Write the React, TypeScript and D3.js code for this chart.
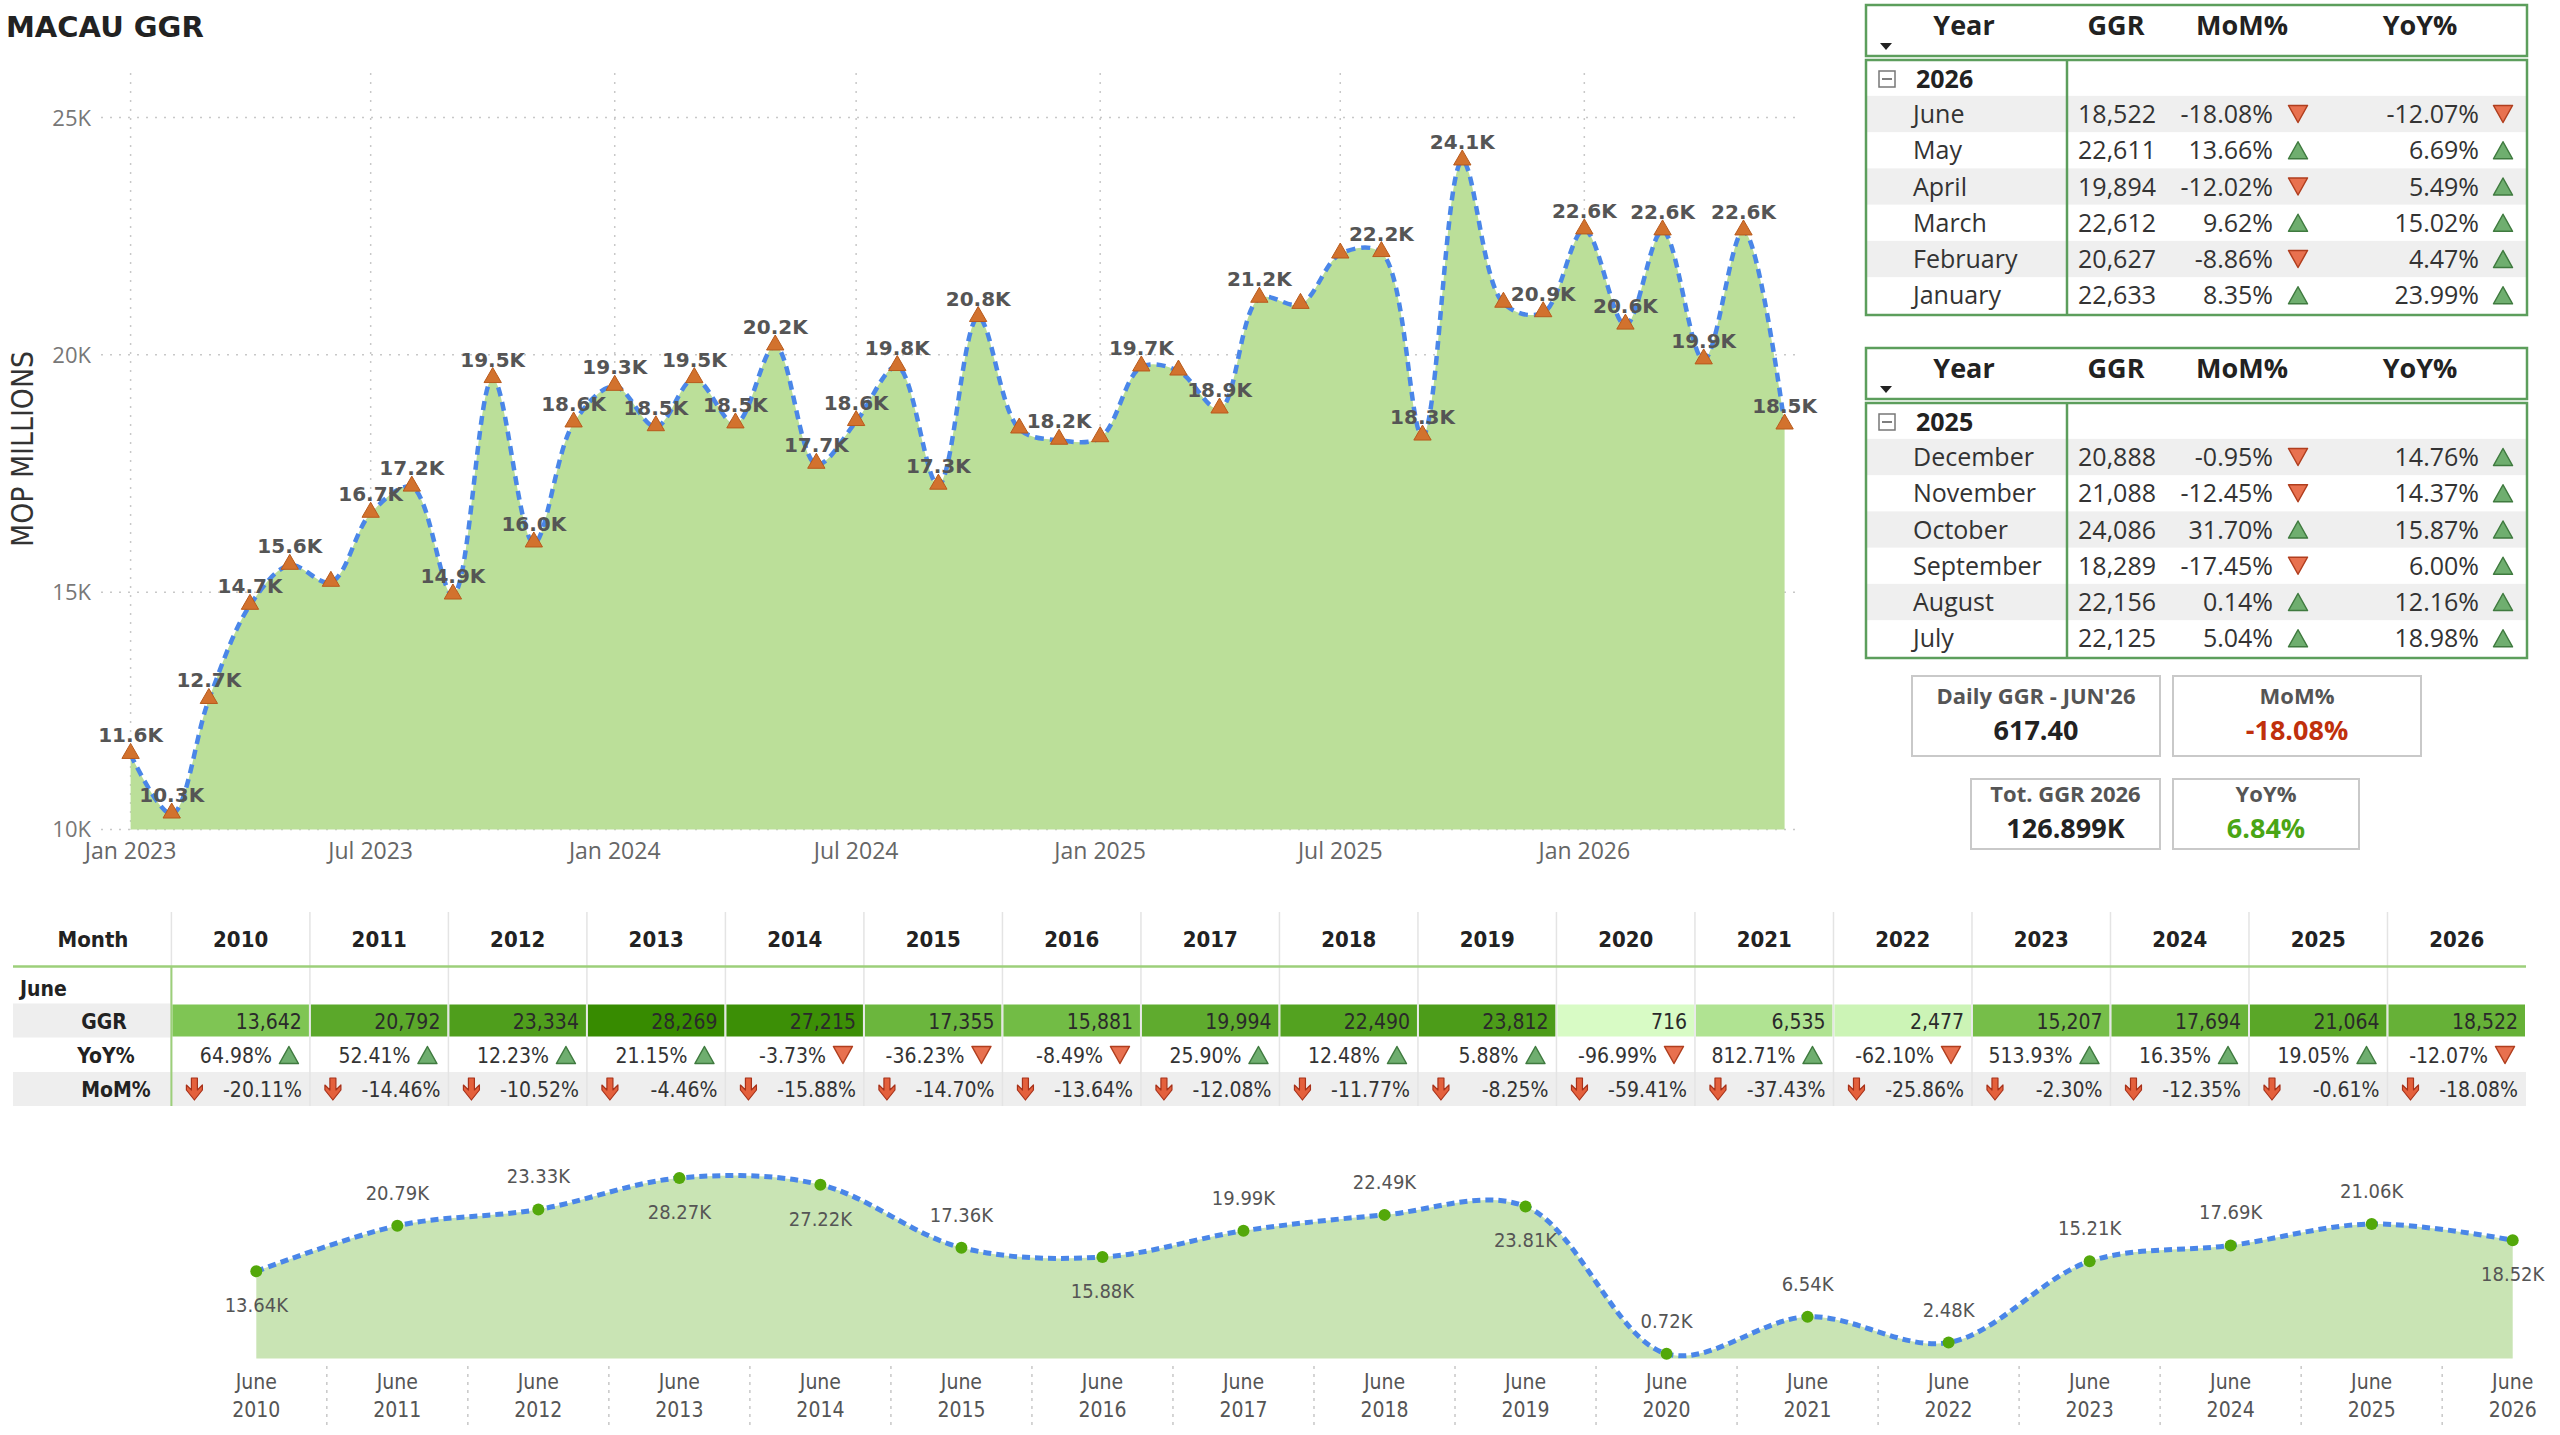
import React, { useEffect } from 'react';
import * as d3 from 'd3';

// ---------- monthly GGR, Jan 2023 – Jun 2026 (MOP millions) ----------
const monthKeys = [
  '2023-01', '2023-02', '2023-03', '2023-04', '2023-05', '2023-06', '2023-07', '2023-08', '2023-09', '2023-10', '2023-11', '2023-12',
  '2024-01', '2024-02', '2024-03', '2024-04', '2024-05', '2024-06', '2024-07', '2024-08', '2024-09', '2024-10', '2024-11', '2024-12',
  '2025-01', '2025-02', '2025-03', '2025-04', '2025-05', '2025-06', '2025-07', '2025-08', '2025-09', '2025-10', '2025-11', '2025-12',
  '2026-01', '2026-02', '2026-03', '2026-04', '2026-05', '2026-06',
];
const monthlyGGR = [
  11580, 10324, 12738, 14722, 15565, 15207, 16662, 17213, 14939, 19501, 16036, 18565,
  19337, 18486, 19500, 18545, 20187, 17694, 18595, 19754, 17254, 20787, 18438, 18201,
  18254, 19745, 19659, 18859, 21193, 21064, 22125, 22156, 18289, 24086, 21088, 20888,
  22633, 20627, 22612, 19894, 22611, 18522,
];
// months whose data label is suppressed (crowded neighbours)
const unlabeledMonths = ['2023-06', '2024-11', '2025-01', '2025-03', '2025-06', '2025-07', '2025-11'];
const yTicks = [10000, 15000, 20000, 25000];

// ---------- matrix 2026 ----------
const months2026 = ['June', 'May', 'April', 'March', 'February', 'January'];
const ggr2026 = [18522, 22611, 19894, 22612, 20627, 22633];
const mom2026 = [-18.08, 13.66, -12.02, 9.62, -8.86, 8.35];
const yoy2026 = [-12.07, 6.69, 5.49, 15.02, 4.47, 23.99];

// ---------- matrix 2025 (H2) ----------
const months2025 = ['December', 'November', 'October', 'September', 'August', 'July'];
const ggr2025 = [20888, 21088, 24086, 18289, 22156, 22125];
const mom2025 = [-0.95, -12.45, 31.7, -17.45, 0.14, 5.04];
const yoy2025 = [14.76, 14.37, 15.87, 6.0, 12.16, 18.98];

// ---------- KPI cards ----------
const ytdYoY2026 = 6.84;
const daysInJune = 30;

// ---------- June of every year ----------
const juneYears = ['2010', '2011', '2012', '2013', '2014', '2015', '2016', '2017', '2018', '2019', '2020', '2021', '2022', '2023', '2024', '2025', '2026'];
const juneGGR = [13642, 20792, 23334, 28269, 27215, 17355, 15881, 19994, 22490, 23812, 716, 6535, 2477, 15207, 17694, 21064, 18522];
const juneYoY = [64.98, 52.41, 12.23, 21.15, -3.73, -36.23, -8.49, 25.9, 12.48, 5.88, -96.99, 812.71, -62.1, 513.93, 16.35, 19.05, -12.07];
const juneMoM = [-20.11, -14.46, -10.52, -4.46, -15.88, -14.7, -13.64, -12.08, -11.77, -8.25, -59.41, -37.43, -25.86, -2.3, -12.35, -0.61, -18.08];
const juneLabelSide = ['below', 'above', 'above', 'below', 'below', 'above', 'below', 'above', 'above', 'below', 'above', 'above', 'above', 'above', 'above', 'above', 'below'];

const FONT_BOLD = "'DejaVu Sans', Verdana, sans-serif";
const FONT_UI = "'Open Sans', 'Noto Sans', sans-serif";
const FONT_NARROW = "'Liberation Sans Narrow', 'DejaVu Sans Condensed', 'Open Sans', sans-serif";

const GREEN_BORDER = '#5c9e5c';
const UP_FILL = '#6fae6f';
const UP_STROKE = '#3f7a3f';
const DOWN_FILL = '#e8714f';
const DOWN_STROKE = '#b03e1e';

const parseMonth = d3.timeParse('%Y-%m');
const fmtInt = d3.format(',');
const fmtPct = (v: number) => `${v.toFixed(2)}%`;

function Tri({ cx, cy, up, w = 19, h = 17 }: { cx: number; cy: number; up: boolean; w?: number; h?: number }) {
  const d = up
    ? `M${cx - w / 2},${cy + h / 2}L${cx},${cy - h / 2}L${cx + w / 2},${cy + h / 2}Z`
    : `M${cx - w / 2},${cy - h / 2}L${cx},${cy + h / 2}L${cx + w / 2},${cy - h / 2}Z`;
  return <path d={d} fill={up ? UP_FILL : DOWN_FILL} stroke={up ? UP_STROKE : DOWN_STROKE} strokeWidth={1.5} strokeLinejoin="round" />;
}

function DownArrow({ cx, cy }: { cx: number; cy: number }) {
  const d = `M${cx - 3},${cy - 11}L${cx + 3},${cy - 11}L${cx + 3},${cy + 1}L${cx + 8},${cy - 4}L${cx + 8},${cy + 1}L${cx},${cy + 11}L${cx - 8},${cy + 1}L${cx - 8},${cy - 4}L${cx - 3},${cy + 1}Z`;
  return <path d={d} fill="#e4603c" stroke="#a8321a" strokeWidth={1.2} strokeLinejoin="round" />;
}

function MainChart() {
  const dates = monthKeys.map((m) => parseMonth(m) as Date);
  const x = d3.scaleTime().domain([dates[0], dates[dates.length - 1]]).range([130.6, 1784.6]);
  const y = d3.scaleLinear().domain([10000, 25000]).range([829.4, 117.6]);
  const top = 73;
  const curve = d3.curveCatmullRom.alpha(0.5);
  const pts = dates.map((d, i) => ({ d, v: monthlyGGR[i], key: monthKeys[i] }));
  const area = d3.area<typeof pts[0]>().x((p) => x(p.d)).y0(y(10000)).y1((p) => y(p.v)).curve(curve);
  const line = d3.line<typeof pts[0]>().x((p) => x(p.d)).y((p) => y(p.v)).curve(curve);
  const xTicks = d3.timeMonth.every(6)!.range(dates[0], d3.timeMonth.offset(dates[dates.length - 1], 1));
  const tri = d3.symbol(d3.symbolTriangle, 130);
  return (
    <g>
      <text x={6} y={37} fontFamily={FONT_BOLD} fontWeight={700} fontSize={29} fill="#222">MACAU GGR</text>
      {yTicks.map((t) => (
        <g key={t}>
          <line x1={101} x2={1801} y1={y(t)} y2={y(t)} stroke="#c8c8c8" strokeWidth={1.5} strokeDasharray="2 7" />
          <text x={91} y={y(t) + 8} textAnchor="end" fontFamily={FONT_UI} fontSize={22} fill="#777">{`${t / 1000}K`}</text>
        </g>
      ))}
      {xTicks.map((t) => (
        <g key={+t}>
          <line x1={x(t)} x2={x(t)} y1={top} y2={829.4} stroke="#c8c8c8" strokeWidth={1.5} strokeDasharray="2 7" />
          <text x={x(t)} y={859} textAnchor="middle" fontFamily={FONT_UI} fontSize={23} fill="#666">{d3.timeFormat('%b %Y')(t)}</text>
        </g>
      ))}
      <text transform="translate(33,449) rotate(-90)" textAnchor="middle" fontFamily={FONT_NARROW} fontSize={30} fill="#333" textLength={196} lengthAdjust="spacingAndGlyphs">MOP MILLIONS</text>
      <path d={area(pts) || ''} fill="#bbdf99" />
      <path d={line(pts) || ''} fill="none" stroke="#4a86e8" strokeWidth={4.5} strokeDasharray="9 6" />
      {pts.map((p) => (
        <path key={p.key} d={tri() || ''} transform={`translate(${x(p.d)},${y(p.v) - 1})`} fill="#d2722e" stroke="#b85a1c" strokeWidth={1} />
      ))}
      {pts.filter((p) => !unlabeledMonths.includes(p.key)).map((p) => (
        <text key={`l${p.key}`} x={x(p.d)} y={y(p.v) - 12} textAnchor="middle" fontFamily={FONT_BOLD} fontWeight={700} fontSize={20} fill="#555">
          {`${(p.v / 1000).toFixed(1)}K`}
        </text>
      ))}
    </g>
  );
}

function YearTable({ top, year, months, ggr, mom, yoy }: { top: number; year: string; months: string[]; ggr: number[]; mom: number[]; yoy: number[] }) {
  const left = 1866, right = 2527, divider = 2067;
  const rowH = 36.25;
  const firstRow = top + 109;
  const bottom = top + 310;
  const fs = 25;
  return (
    <g fontFamily={FONT_UI}>
      <rect x={left} y={top} width={right - left} height={51} fill="#fff" stroke={GREEN_BORDER} strokeWidth={2.5} />
      <text x={1964} y={top + 30} textAnchor="middle" fontWeight={700} fontSize={27} fill="#222">Year</text>
      <text x={2116} y={top + 30} textAnchor="middle" fontWeight={700} fontSize={27} fill="#222">GGR</text>
      <text x={2242} y={top + 30} textAnchor="middle" fontWeight={700} fontSize={27} fill="#222">MoM%</text>
      <text x={2420} y={top + 30} textAnchor="middle" fontWeight={700} fontSize={27} fill="#222">YoY%</text>
      <path d={`M${1880},${top + 38}L${1892},${top + 38}L${1886},${top + 45}Z`} fill="#222" />
      {months.map((m, i) => (i % 2 === 0 ? (
        <rect key={`b${m}`} x={left} y={firstRow + i * rowH - rowH / 2} width={right - left} height={rowH} fill="#efefef" />
      ) : null))}
      <rect x={left} y={top + 55} width={right - left} height={bottom - top - 55} fill="none" stroke={GREEN_BORDER} strokeWidth={2.5} />
      <line x1={divider} x2={divider} y1={top + 55} y2={bottom} stroke={GREEN_BORDER} strokeWidth={2.5} />
      <rect x={1879} y={top + 66} width={16} height={16} fill="#fff" stroke="#777" strokeWidth={1.5} />
      <line x1={1882} x2={1892} y1={top + 74} y2={top + 74} stroke="#555" strokeWidth={1.5} />
      <text x={1916} y={top + 83} fontWeight={700} fontSize={25} fill="#222">{year}</text>
      {months.map((m, i) => {
        const cy = firstRow + i * rowH;
        return (
          <g key={m} fontSize={fs} fill="#333">
            <text x={1913} y={cy + 9}>{m}</text>
            <text x={2156} y={cy + 9} textAnchor="end">{fmtInt(ggr[i])}</text>
            <text x={2273} y={cy + 9} textAnchor="end">{fmtPct(mom[i])}</text>
            <Tri cx={2298} cy={cy} up={mom[i] >= 0} />
            <text x={2479} y={cy + 9} textAnchor="end">{fmtPct(yoy[i])}</text>
            <Tri cx={2503} cy={cy} up={yoy[i] >= 0} />
          </g>
        );
      })}
    </g>
  );
}

function Card({ x, y, w, h, title, value, color }: { x: number; y: number; w: number; h: number; title: string; value: string; color: string }) {
  return (
    <g>
      <rect x={x} y={y} width={w} height={h} fill="#fff" stroke="#c9c9c9" strokeWidth={2} />
      <text x={x + w / 2} y={y + h / 2 - 12} textAnchor="middle" fontFamily={FONT_UI} fontWeight={700} fontSize={22} fill="#555">{title}</text>
      <text x={x + w / 2} y={y + h / 2 + 24} textAnchor="middle" fontFamily={FONT_UI} fontWeight={700} fontSize={27} fill={color}>{value}</text>
    </g>
  );
}

function Cards() {
  const total2026 = d3.sum(ggr2026);
  const juneDaily = ggr2026[0] / daysInJune;
  return (
    <g>
      <Card x={1912} y={676} w={248} h={80} title="Daily GGR - JUN'26" value={juneDaily.toFixed(2)} color="#222" />
      <Card x={2173} y={676} w={248} h={80} title="MoM%" value={fmtPct(mom2026[0])} color="#c0300c" />
      <Card x={1971} y={779} w={189} h={70} title="Tot. GGR 2026" value={`${(total2026 / 1000).toFixed(3)}K`} color="#222" />
      <Card x={2173} y={779} w={186} h={70} title="YoY%" value={fmtPct(ytdYoY2026)} color="#4aa515" />
    </g>
  );
}

function JuneTable() {
  const colX = d3.scaleBand().domain(juneYears).range([171.4, 2526]);
  const bw = colX.bandwidth();
  const color = d3.scaleLinear<string>().domain([716, 14500, 28269]).range(['#d8fbc5', '#79c14d', '#378b00']);
  const headerY = 939, lineY = 966.5, juneY = 988, ggrY = 1020.5, yoyY = 1055, momY = 1089;
  const rh = 34;
  return (
    <g fontFamily={FONT_NARROW}>
      <rect x={13} y={ggrY - rh / 2} width={158} height={rh} fill="#eeeeee" />
      <rect x={13} y={momY - rh / 2} width={2513} height={rh} fill="#eeeeee" />
      {juneYears.map((yr, i) => {
        const x0 = colX(yr)!;
        return (
          <g key={yr}>
            <line x1={x0} x2={x0} y1={912} y2={1106} stroke="#e4e4e4" strokeWidth={1.5} />
            <text x={x0 + bw / 2} y={headerY + 8} textAnchor="middle" fontWeight={700} fontSize={22} fill="#222">{yr}</text>
            <rect x={x0 + 1} y={ggrY - rh / 2 + 1} width={bw - 2} height={rh - 2} fill={color(juneGGR[i])} />
            <text x={x0 + bw - 8} y={ggrY + 8} textAnchor="end" fontSize={21} fill="#2a2a2a">{fmtInt(juneGGR[i])}</text>
            <text x={x0 + bw - 38} y={yoyY + 8} textAnchor="end" fontSize={21} fill="#333">{fmtPct(juneYoY[i])}</text>
            <Tri cx={x0 + bw - 21} cy={yoyY} up={juneYoY[i] >= 0} w={19} h={17} />
            <DownArrow cx={x0 + 23} cy={momY} />
            <text x={x0 + bw - 8} y={momY + 8} textAnchor="end" fontSize={21} fill="#333">{fmtPct(juneMoM[i])}</text>
          </g>
        );
      })}
      <text x={93} y={headerY + 8} textAnchor="middle" fontWeight={700} fontSize={22} fill="#222">Month</text>
      <line x1={13} x2={2526} y1={lineY} y2={lineY} stroke="#9ccf7a" strokeWidth={2.5} />
      <line x1={171.4} x2={171.4} y1={lineY} y2={1106} stroke="#9ccf7a" strokeWidth={2} />
      <text x={20} y={juneY + 8} fontWeight={700} fontSize={21} fill="#222">June</text>
      <text x={104} y={ggrY + 8} textAnchor="middle" fontWeight={700} fontSize={21} fill="#222">GGR</text>
      <text x={106} y={yoyY + 8} textAnchor="middle" fontWeight={700} fontSize={21} fill="#222">YoY%</text>
      <text x={116} y={momY + 8} textAnchor="middle" fontWeight={700} fontSize={21} fill="#222">MoM%</text>
    </g>
  );
}

function JuneChart() {
  const x = d3.scalePoint().domain(juneYears).range([256.3, 2512.7]);
  const y = d3.scaleLinear().domain([0, 28269]).range([1358.4, 1178]);
  const step = x.step();
  const curve = d3.curveCatmullRom.alpha(0.5);
  const pts = juneYears.map((yr, i) => ({ yr, v: juneGGR[i], side: juneLabelSide[i] }));
  const area = d3.area<typeof pts[0]>().x((p) => x(p.yr)!).y0(y(0)).y1((p) => y(p.v)).curve(curve);
  const line = d3.line<typeof pts[0]>().x((p) => x(p.yr)!).y((p) => y(p.v)).curve(curve);
  const lbl = (v: number) => `${(Math.round(v / 10) / 100).toFixed(2)}K`;
  return (
    <g fontFamily={FONT_NARROW}>
      <path d={area(pts) || ''} fill="#c9e4b4" />
      <path d={line(pts) || ''} fill="none" stroke="#4a86e8" strokeWidth={5} strokeDasharray="8 5" />
      {pts.map((p) => (
        <circle key={p.yr} cx={x(p.yr)} cy={y(p.v)} r={6} fill="#53a80a" />
      ))}
      {pts.map((p) => (
        <text key={`t${p.yr}`} x={x(p.yr)} y={y(p.v) + (p.side === 'above' ? -33 : 34) + 7} textAnchor="middle" fontSize={20} fill="#555">{lbl(p.v)}</text>
      ))}
      {juneYears.slice(1).map((yr) => (
        <line key={`s${yr}`} x1={x(yr)! - step / 2} x2={x(yr)! - step / 2} y1={1366} y2={1430} stroke="#c8c8c8" strokeWidth={1.5} strokeDasharray="3 5" />
      ))}
      {juneYears.map((yr) => (
        <g key={`a${yr}`}>
          <text x={x(yr)} y={1389} textAnchor="middle" fontSize={21} fill="#555">June</text>
          <text x={x(yr)} y={1417} textAnchor="middle" fontSize={21} fill="#555">{yr}</text>
        </g>
      ))}
    </g>
  );
}

export default function App() {
  useEffect(() => {
    document.body.style.margin = '0';
    document.body.style.overflow = 'hidden';
  }, []);
  return (
    <svg width={2560} height={1435} viewBox="0 0 2560 1435" style={{ display: 'block', background: '#fff' }}>
      <rect width={2560} height={1435} fill="#fff" />
      <MainChart />
      <YearTable top={5} year="2026" months={months2026} ggr={ggr2026} mom={mom2026} yoy={yoy2026} />
      <YearTable top={348} year="2025" months={months2025} ggr={ggr2025} mom={mom2025} yoy={yoy2025} />
      <Cards />
      <JuneTable />
      <JuneChart />
    </svg>
  );
}
